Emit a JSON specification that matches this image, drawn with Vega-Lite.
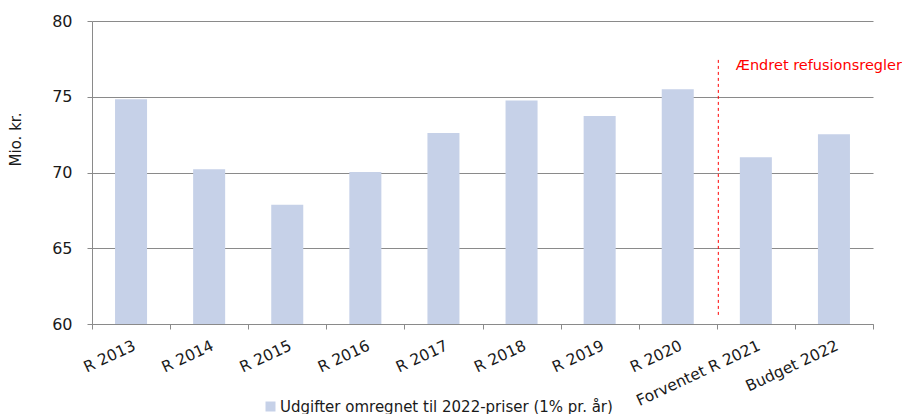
{
  "$schema": "https://vega.github.io/schema/vega-lite/v6.json",
  "autosize": "none",
  "width": 781,
  "height": 303,
  "padding": {"left": 92, "top": 21, "right": 29, "bottom": 90},
  "background": "white",
  "config": {
    "view": {"stroke": null},
    "font": "DejaVu Sans",
    "axis": {"labelFont": "DejaVu Sans", "titleFont": "DejaVu Sans", "labelColor": "#1a1a1a", "titleColor": "#1a1a1a"}
  },
  "data": {
    "values": [
      {"kategori": "R 2013", "vaerdi": 74.83, "serie": "Udgifter omregnet til 2022-priser (1% pr. år)"},
      {"kategori": "R 2014", "vaerdi": 70.22, "serie": "Udgifter omregnet til 2022-priser (1% pr. år)"},
      {"kategori": "R 2015", "vaerdi": 67.87, "serie": "Udgifter omregnet til 2022-priser (1% pr. år)"},
      {"kategori": "R 2016", "vaerdi": 70.03, "serie": "Udgifter omregnet til 2022-priser (1% pr. år)"},
      {"kategori": "R 2017", "vaerdi": 72.6, "serie": "Udgifter omregnet til 2022-priser (1% pr. år)"},
      {"kategori": "R 2018", "vaerdi": 74.75, "serie": "Udgifter omregnet til 2022-priser (1% pr. år)"},
      {"kategori": "R 2019", "vaerdi": 73.73, "serie": "Udgifter omregnet til 2022-priser (1% pr. år)"},
      {"kategori": "R 2020", "vaerdi": 75.49, "serie": "Udgifter omregnet til 2022-priser (1% pr. år)"},
      {"kategori": "Forventet R 2021", "vaerdi": 71.01, "serie": "Udgifter omregnet til 2022-priser (1% pr. år)"},
      {"kategori": "Budget 2022", "vaerdi": 72.53, "serie": "Udgifter omregnet til 2022-priser (1% pr. år)"}
    ]
  },
  "encoding": {
    "x": {
      "field": "kategori", "type": "nominal", "sort": null,
      "scale": {"paddingInner": 0, "paddingOuter": 0},
      "axis": {
        "title": null, "labelAngle": -25, "labelAlign": "right", "labelBaseline": "top",
        "labelFontSize": 15.5, "labelPadding": 9, "labelLimit": 0, "tickBand": "extent", "tickSize": 5,
        "tickColor": "#8a8a8a", "domainColor": "#8a8a8a", "grid": false
      }
    }
  },
  "layer": [
    {
      "mark": {"type": "bar", "width": {"band": 0.41}, "color": "#c6d1e8", "clip": true},
      "encoding": {
        "y": {
          "field": "vaerdi", "type": "quantitative",
          "scale": {"domain": [60, 80], "nice": false, "zero": false},
          "axis": {
            "title": "Mio. kr.", "values": [60, 65, 70, 75, 80], "labelFontSize": 16,
            "labelPadding": 15, "tickSize": 5, "tickColor": "#8a8a8a", "domainColor": "#8a8a8a",
            "gridColor": "#8a8a8a", "gridWidth": 1, "titleFontSize": 15, "titleFontWeight": "normal",
            "titleAngle": -90, "titleX": -77, "titleY": 118, "titleAlign": "center", "titleBaseline": "middle"
          }
        },
        "color": {
          "field": "serie", "type": "nominal",
          "scale": {"range": ["#c6d1e8"]},
          "legend": {
            "title": null, "orient": "none", "legendX": 171, "legendY": 378, "padding": 0,
            "symbolType": "square", "symbolSize": 100, "symbolStrokeWidth": 0, "labelFontSize": 15,
            "labelOffset": 2, "labelColor": "#1a1a1a", "labelLimit": 0
          }
        }
      }
    },
    {
      "data": {"values": [{"kategori": "Forventet R 2021", "fra": 60.6, "til": 77.5}]},
      "mark": {"type": "rule", "color": "#ff0000", "strokeDash": [3, 3], "strokeWidth": 1, "xOffset": 1.5},
      "encoding": {
        "x": {"field": "kategori", "type": "nominal", "bandPosition": 0},
        "y": {"field": "fra", "type": "quantitative"},
        "y2": {"field": "til"}
      }
    },
    {
      "data": {"values": [{"kategori": "Forventet R 2021", "y": 77.0, "tekst": "Ændret refusionsregler"}]},
      "mark": {"type": "text", "color": "#ff0000", "align": "left", "baseline": "middle", "fontSize": 14.5, "dx": 19},
      "encoding": {
        "x": {"field": "kategori", "type": "nominal", "bandPosition": 0},
        "y": {"field": "y", "type": "quantitative"},
        "text": {"field": "tekst"}
      }
    }
  ]
}
